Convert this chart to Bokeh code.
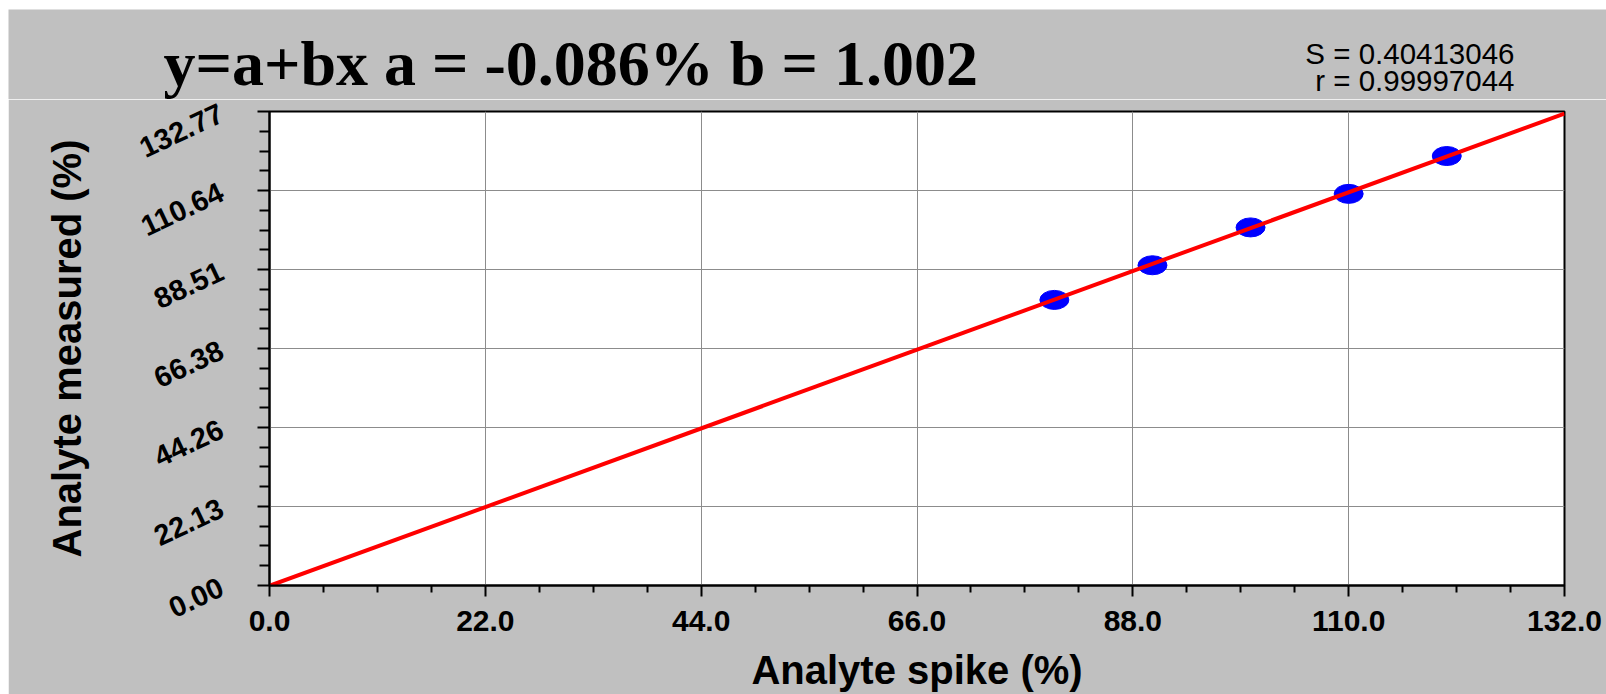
from bokeh.plotting import figure
from bokeh.models import Range1d, FixedTicker, Label, NumeralTickFormatter
from bokeh.embed import file_html
from bokeh.resources import INLINE

# ---- data ----
spike = [80, 90, 100, 110, 120]
measured = [80.0, 89.7, 100.3, 109.7, 120.3]
fit_a = -0.086
fit_b = 1.002
fit_S = 0.40413046
fit_r = 0.99997044
x_ticks = [0.0, 22.0, 44.0, 66.0, 88.0, 110.0, 132.0]
y_ticks = [0.0, 22.13, 44.26, 66.38, 88.51, 110.64, 132.77]
x_title = "Analyte spike (%)"
y_title = "Analyte measured (%)"

GRAY = "#C0C0C0"
W = 1598
HEAD_H = 90

def minors(ticks, n=4):
    out = []
    for a, b in zip(ticks[:-1], ticks[1:]):
        out += [a + k * (b - a) / n for k in range(1, n)]
    return out

# ---- header band (title + statistics) ----
head = figure(width=W, height=HEAD_H, output_backend="svg", toolbar_location=None,
              x_range=Range1d(0, W), y_range=Range1d(0, HEAD_H),
              x_axis_type=None, y_axis_type=None, min_border=0)
head.margin = (9, 0, 0, 8)
head.background_fill_color = GRAY
head.border_fill_color = GRAY
head.outline_line_color = None
head.grid.visible = False

def hy(win_y):
    # header-local vertical coordinate for a window pixel row
    return 9 + HEAD_H - win_y

head.add_layout(Label(x=155, y=hy(63.2), text=f"y=a+bx a = {fit_a:.3f}% b = {fit_b:.3f}",
                      text_font="Liberation Serif", text_font_style="bold",
                      text_font_size="64px", text_color="black",
                      text_baseline="middle", text_align="left"))
head.add_layout(Label(x=1506, y=hy(52.7), text=f"S = {fit_S:.8f}",
                      text_font="Liberation Sans", text_font_size="29.5px",
                      text_color="black", text_baseline="middle", text_align="right"))
head.add_layout(Label(x=1506, y=hy(80), text=f"r = {fit_r:.8f}",
                      text_font="Liberation Sans", text_font_size="29.5px",
                      text_color="black", text_baseline="middle", text_align="right"))

# ---- main plot ----
p = figure(width=W, height=685 - HEAD_H, output_backend="svg", toolbar_location=None,
           x_range=Range1d(x_ticks[0], x_ticks[-1]),
           y_range=Range1d(y_ticks[0], y_ticks[-1]),
           min_border_left=261, min_border_right=42,
           min_border_top=111 - 9 - HEAD_H, min_border_bottom=107)
p.margin = (0, 0, 0, 8)
p.border_fill_color = GRAY
p.background_fill_color = "white"
p.outline_line_color = "black"
p.outline_line_width = 2

p.xaxis.ticker = FixedTicker(ticks=x_ticks, minor_ticks=minors(x_ticks))
p.yaxis.ticker = FixedTicker(ticks=y_ticks, minor_ticks=minors(y_ticks))
p.xaxis.formatter = NumeralTickFormatter(format="0.0")
p.yaxis.formatter = NumeralTickFormatter(format="0.00")

for ax in (p.xaxis[0], p.yaxis[0]):
    ax.axis_line_color = "black"
    ax.axis_line_width = 2
    ax.major_tick_line_color = "black"
    ax.major_tick_line_width = 2
    ax.minor_tick_line_color = "black"
    ax.minor_tick_line_width = 2
    ax.major_tick_in = 0
    ax.minor_tick_in = 0
    ax.major_label_text_font = "Liberation Sans"
    ax.major_label_text_font_style = "bold"
    ax.major_label_text_color = "black"
    ax.axis_label_text_font = "Liberation Sans"
    ax.axis_label_text_font_style = "bold"
    ax.axis_label_text_font_size = "40px"
    ax.axis_label_text_color = "black"

p.xaxis.major_label_text_font_size = "30px"
p.yaxis.major_label_text_font_size = "29px"
p.xaxis.major_tick_out = 11
p.xaxis.minor_tick_out = 7
p.yaxis.major_tick_out = 12
p.yaxis.minor_tick_out = 10
p.xaxis.major_label_standoff = 14
p.yaxis.major_label_standoff = 36
p.yaxis.major_label_orientation = 0.44
p.xaxis.axis_label = x_title
p.yaxis.axis_label = y_title
p.xaxis.axis_label_standoff = 14
p.yaxis.axis_label_standoff = 41

p.xgrid.ticker = FixedTicker(ticks=x_ticks)
p.ygrid.ticker = FixedTicker(ticks=y_ticks)
p.grid.grid_line_color = "#8c8c8c"
p.grid.grid_line_width = 1

# data points
p.ellipse(x=spike, y=measured, width=29, height=19,
          width_units="screen", height_units="screen",
          fill_color="#0000FF", line_color="#0000FF")

# regression line y = a + b x
lx = [x_ticks[0], x_ticks[-1]]
ly = [fit_a + fit_b * v for v in lx]
p.line(lx, ly, line_color="#FF0000", line_width=4)

open("out.html", "w").write(file_html([head, p], INLINE))
